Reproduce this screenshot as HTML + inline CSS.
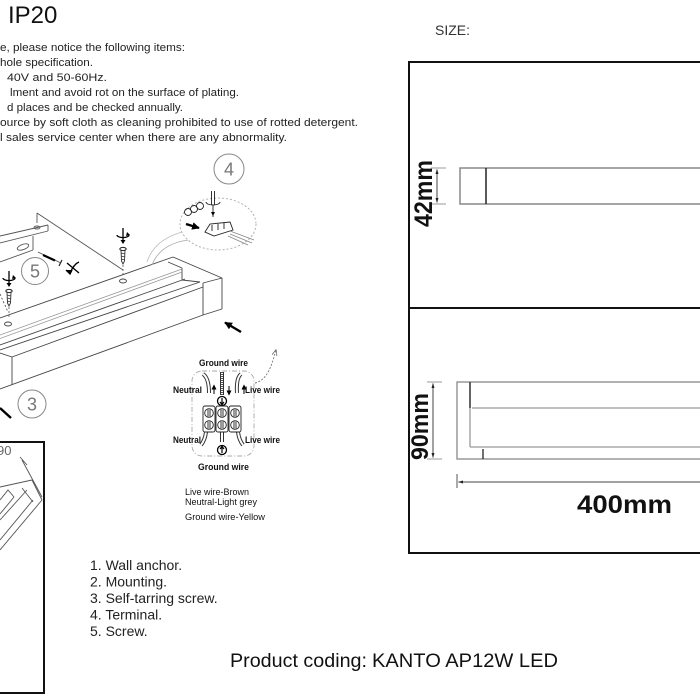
<!DOCTYPE html>
<html><head><meta charset="utf-8"><style>
html,body{margin:0;padding:0;background:#fff;}
svg{display:block;}
text{font-family:"Liberation Sans",Arial,sans-serif;}
</style></head><body>
<svg width="700" height="700" viewBox="0 0 700 700" xmlns="http://www.w3.org/2000/svg">
<defs>
<marker id="ab" viewBox="0 0 10 10" refX="9" refY="5" markerWidth="3.2" markerHeight="3.2" orient="auto"><path d="M0,0 L10,5 L0,10 z" fill="#000"/></marker>
<marker id="ad" viewBox="0 0 10 10" refX="9" refY="5" markerWidth="5" markerHeight="5" orient="auto-start-reverse"><path d="M0,2 L10,5 L0,8 z" fill="#222"/></marker>
<marker id="ao" viewBox="0 0 10 10" refX="9" refY="5" markerWidth="7" markerHeight="7" orient="auto"><path d="M0,1 L10,5 L0,9" fill="none" stroke="#666" stroke-width="1.2"/></marker>
<g id="rot">
  <line x1="0" y1="-8" x2="0" y2="6" stroke="#000" stroke-width="1.3"/>
  <path d="M-6,-1 A6,2.6 0 1 0 6,-1" fill="none" stroke="#000" stroke-width="1.3"/>
  <path d="M-2.5,4 L0,8 L2.5,4 z" fill="#000"/>
  <path d="M4,-4 L7,-1 L3,0 z" fill="#000"/>
</g>
<g id="screw">
  <ellipse cx="0" cy="0" rx="3.2" ry="1.6" fill="none" stroke="#222" stroke-width="1"/>
  <path d="M-2,1.5 L2,1.5 L1.5,12 L0,15 L-1.5,12 z" fill="none" stroke="#333" stroke-width="0.9"/>
  <path d="M-2,4 L2,5 M-2,7 L2,8 M-1.8,10 L1.8,11" stroke="#333" stroke-width="0.8"/>
</g>
</defs>

<!-- Title -->
<text x="8" y="23" font-size="24" fill="#111">IP20</text>

<!-- Instructions -->
<g font-size="11" fill="#222">
<text x="0" y="51" textLength="185" lengthAdjust="spacingAndGlyphs">e, please notice the following items:</text>
<text x="0" y="66" textLength="93" lengthAdjust="spacingAndGlyphs">hole specification.</text>
<text x="7" y="81" textLength="100" lengthAdjust="spacingAndGlyphs">40V and 50-60Hz.</text>
<text x="10" y="96" textLength="229" lengthAdjust="spacingAndGlyphs">lment and avoid rot on the surface of plating.</text>
<text x="7" y="111" textLength="176" lengthAdjust="spacingAndGlyphs">d places and be checked annually.</text>
<text x="0" y="126" textLength="358" lengthAdjust="spacingAndGlyphs">ource by soft cloth as cleaning prohibited to use of rotted detergent.</text>
<text x="0" y="141" textLength="287" lengthAdjust="spacingAndGlyphs">l sales service center when there are any abnormality.</text>
</g>

<!-- SIZE -->
<text x="435" y="35" font-size="14" fill="#333" textLength="35" lengthAdjust="spacingAndGlyphs">SIZE:</text>

<!-- Right dimension box -->
<path d="M409,553 V62 H701" fill="none" stroke="#111" stroke-width="2"/>
<line x1="409" y1="308" x2="701" y2="308" stroke="#111" stroke-width="2"/>
<line x1="408" y1="553" x2="701" y2="553" stroke="#111" stroke-width="2"/>

<!-- top view -->
<path d="M701,168 H460 V204 H701" fill="none" stroke="#888" stroke-width="1.5"/>
<line x1="486" y1="168" x2="486" y2="204" stroke="#222" stroke-width="1.5"/>
<line x1="431" y1="168" x2="446" y2="168" stroke="#999" stroke-width="1"/>
<line x1="431" y1="204" x2="446" y2="204" stroke="#999" stroke-width="1"/>
<line x1="437" y1="169.5" x2="437" y2="202.5" stroke="#444" stroke-width="1" marker-start="url(#ad)" marker-end="url(#ad)"/>
<text transform="translate(432,193.5) rotate(-90)" text-anchor="middle" font-size="25" font-weight="bold" fill="#111" textLength="67" lengthAdjust="spacingAndGlyphs">42mm</text>

<!-- bottom view -->
<path d="M701,382 H457 V459 H701" fill="none" stroke="#999" stroke-width="1.5"/>
<line x1="470" y1="382" x2="470" y2="447" stroke="#999" stroke-width="1.3"/>
<line x1="470" y1="382" x2="470" y2="408" stroke="#222" stroke-width="1.3"/>
<line x1="472" y1="408" x2="701" y2="408" stroke="#999" stroke-width="1.3"/>
<line x1="470" y1="447" x2="701" y2="447" stroke="#999" stroke-width="1.3"/>
<line x1="483" y1="449" x2="483" y2="459" stroke="#222" stroke-width="1.3"/>
<line x1="427" y1="382" x2="442" y2="382" stroke="#999" stroke-width="1"/>
<line x1="427" y1="459" x2="442" y2="459" stroke="#999" stroke-width="1"/>
<line x1="433" y1="383.5" x2="433" y2="457.5" stroke="#444" stroke-width="1" marker-start="url(#ad)" marker-end="url(#ad)"/>
<text transform="translate(428,426.5) rotate(-90)" text-anchor="middle" font-size="24" font-weight="bold" fill="#111" textLength="67" lengthAdjust="spacingAndGlyphs">90mm</text>
<line x1="457" y1="474" x2="457" y2="488" stroke="#555" stroke-width="1"/>
<line x1="458.5" y1="482" x2="701" y2="482" stroke="#444" stroke-width="1" marker-start="url(#ad)"/>
<text x="577" y="513" font-size="25" font-weight="bold" fill="#111" textLength="95" lengthAdjust="spacingAndGlyphs">400mm</text>

<!-- Illustration: wall bracket -->
<g stroke="#555" stroke-width="0.9" fill="none">
  <line x1="37" y1="213" x2="123" y2="270"/>
  <line x1="37" y1="213" x2="37" y2="223"/>
  <line x1="0" y1="236" x2="48" y2="225"/>
  <line x1="0" y1="243" x2="48" y2="231"/>
  <line x1="48" y1="225" x2="48" y2="231"/>
  <line x1="33" y1="236" x2="33" y2="250"/>
  <line x1="0" y1="262" x2="33" y2="250"/>
  <ellipse cx="23" cy="247" rx="6" ry="2.6" transform="rotate(-20 23 247)"/>
  <ellipse cx="37" cy="227.5" rx="3" ry="1.5"/>
  <line x1="0" y1="294" x2="8" y2="312" stroke-dasharray="2,2"/>
</g>

<!-- screws -->
<use href="#rot" x="123" y="236"/>
<use href="#screw" x="123" y="249"/>
<line x1="123" y1="265" x2="123" y2="276" stroke="#555" stroke-width="0.8" stroke-dasharray="2,2"/>
<use href="#rot" x="9" y="279"/>
<use href="#screw" x="9" y="291"/>
<line x1="9" y1="307" x2="9" y2="318" stroke="#555" stroke-width="0.8" stroke-dasharray="2,2"/>

<!-- screw 5 diagonal -->
<line x1="38" y1="252" x2="61" y2="263" stroke="#555" stroke-width="0.9"/>
<line x1="43" y1="255" x2="55" y2="260.5" stroke="#000" stroke-width="2.2"/>
<line x1="59" y1="266" x2="62" y2="260" stroke="#222" stroke-width="1.2"/>
<g stroke="#000" stroke-width="1.4" fill="none">
  <line x1="67" y1="263" x2="79" y2="273"/>
  <path d="M70,273 Q74,264 79,262"/>
  <path d="M66,270 L70,274 L72,270" fill="#000"/>
</g>

<!-- circles -->
<g fill="none" stroke="#888" stroke-width="1">
  <circle cx="35" cy="271" r="13.5"/>
  <circle cx="32" cy="404" r="14"/>
  <circle cx="229" cy="169" r="15"/>
</g>
<g font-size="18" fill="#777" text-anchor="middle">
  <text x="35" y="277.5">5</text>
  <text x="32" y="410.5">3</text>
  <text x="229" y="175.5">4</text>
</g>

<!-- Lamp bar -->
<g stroke="#444" stroke-width="0.9" fill="none">
  <line x1="0" y1="318" x2="173" y2="257"/>
  <line x1="173" y1="257" x2="222" y2="278"/>
  <line x1="222" y1="278" x2="222" y2="309"/>
  <line x1="203" y1="283" x2="222" y2="278"/>
  <line x1="200" y1="282" x2="0" y2="350"/>
  <line x1="203" y1="287" x2="12" y2="357"/>
  <line x1="203" y1="283" x2="203" y2="315"/>
  <line x1="222" y1="309" x2="203" y2="315"/>
  <line x1="203" y1="315" x2="0" y2="389"/>
  <line x1="12" y1="357" x2="12" y2="385"/>
  <line x1="0" y1="353" x2="12" y2="357"/>
  <line x1="168" y1="262" x2="182" y2="268"/>
  <line x1="182" y1="268" x2="182" y2="280"/>
  <line x1="182" y1="280" x2="200" y2="282"/>
  <line x1="185" y1="279" x2="0" y2="345"/>
</g>
<g stroke="#999" stroke-width="0.8" fill="none">
  <line x1="182" y1="269" x2="0" y2="335"/>
  <line x1="182" y1="272" x2="0" y2="338.5"/>
</g>
<ellipse cx="123" cy="281" rx="3.5" ry="2" fill="none" stroke="#444" stroke-width="0.9"/>
<ellipse cx="8" cy="324" rx="3.5" ry="2" fill="none" stroke="#444" stroke-width="0.9"/>

<!-- black arrows -->
<line x1="241" y1="332" x2="225" y2="322.5" stroke="#000" stroke-width="2.4" marker-end="url(#ab)"/>
<line x1="0" y1="408" x2="11" y2="418" stroke="#000" stroke-width="2.4"/>

<!-- magnifier -->
<ellipse cx="218" cy="224" rx="38" ry="26" fill="none" stroke="#aaa" stroke-width="0.9" stroke-dasharray="2,2"/>
<path d="M188,240 Q160,244 152,265" fill="none" stroke="#aaa" stroke-width="0.8"/>
<path d="M182,232 Q154,240 147,262" fill="none" stroke="#bbb" stroke-width="0.8"/>
<g stroke="#222" stroke-width="0.9" fill="none">
  <path d="M211.5,191 V205 M214.5,191 V205 M213,205 V217"/>
  <path d="M206,202 A7,3 0 1 0 220,202" />
  <circle cx="188" cy="212" r="3.5"/>
  <circle cx="194" cy="209" r="3.5"/>
  <circle cx="200" cy="206" r="3.5"/>
  <path d="M205,232 L210,224 L230,222 L233,230 L214,236 z"/>
  <path d="M212,225 V231 M218,224 V230 M224,223 V229"/>
  <path d="M230,231 L254,240 M230,234 L252,243 M228,236 L248,245" stroke="#888"/>
</g>
<path d="M213,216 l-2,-4 h4 z" fill="#000"/>
<line x1="186" y1="224" x2="199" y2="228" stroke="#000" stroke-width="2.4" marker-end="url(#ab)"/>

<!-- Wiring diagram -->
<rect x="192" y="371" width="62" height="85" rx="10" fill="none" stroke="#aaa" stroke-width="0.9" stroke-dasharray="5,2,1,2"/>
<g font-size="9" font-weight="bold" fill="#111">
  <text x="199" y="366" textLength="49" lengthAdjust="spacingAndGlyphs">Ground wire</text>
  <text x="173" y="393" textLength="29" lengthAdjust="spacingAndGlyphs">Neutral</text>
  <text x="245" y="393" textLength="35" lengthAdjust="spacingAndGlyphs">Live wire</text>
  <text x="173" y="443" textLength="28" lengthAdjust="spacingAndGlyphs">Neutral</text>
  <text x="245" y="443" textLength="35" lengthAdjust="spacingAndGlyphs">Live wire</text>
  <text x="198" y="470" textLength="51" lengthAdjust="spacingAndGlyphs">Ground wire</text>
</g>
<g fill="none">
  <path d="M203,374 Q209,378 209,393" stroke="#333" stroke-width="4"/>
  <path d="M203,374 Q209,378 209,393" stroke="#fff" stroke-width="2"/>
  <path d="M222,372 V395" stroke="#333" stroke-width="4"/>
  <path d="M222,372 V395" stroke="#fff" stroke-width="2"/>
  <path d="M222,372 V395" stroke="#555" stroke-width="2" stroke-dasharray="1,1"/>
  <path d="M241,374 Q236,378 237,393" stroke="#333" stroke-width="4"/>
  <path d="M241,374 Q236,378 237,393" stroke="#fff" stroke-width="2"/>
  <path d="M206,432 Q205,440 201,445" stroke="#333" stroke-width="4"/>
  <path d="M206,432 Q205,440 201,445" stroke="#fff" stroke-width="2"/>
  <path d="M222,432 V442" stroke="#333" stroke-width="4"/>
  <path d="M222,432 V442" stroke="#fff" stroke-width="2"/>
  <path d="M238,432 Q239,440 243,445" stroke="#333" stroke-width="4"/>
  <path d="M238,432 Q239,440 243,445" stroke="#fff" stroke-width="2"/>
</g>
<g stroke="#000" stroke-width="1">
  <line x1="214" y1="394" x2="214" y2="387"/><path d="M212.3,389 L214,385.5 L215.7,389 z" fill="#000"/>
  <line x1="229" y1="386" x2="229" y2="393"/><path d="M227.3,391 L229,394.5 L230.7,391 z" fill="#000"/>
  <line x1="244" y1="394" x2="244" y2="387"/><path d="M242.3,389 L244,385.5 L245.7,389 z" fill="#000"/>
</g>
<circle cx="222" cy="401" r="4.5" fill="#fff" stroke="#000" stroke-width="1.3"/>
<path d="M222,398 V404 M220,402 L222,404.5 L224,402" stroke="#000" stroke-width="1.2" fill="none"/>
<circle cx="222" cy="450" r="4.5" fill="#fff" stroke="#000" stroke-width="1.3"/>
<path d="M222,453 V447 M220,449 L222,446.5 L224,449" stroke="#000" stroke-width="1.2" fill="none"/>
<g stroke="#222" stroke-width="0.9" fill="none">
  <rect x="203" y="406" width="12" height="26" rx="2"/>
  <rect x="216" y="406" width="12" height="26" rx="2"/>
  <rect x="229" y="406" width="12" height="26" rx="2"/>
  <circle cx="209" cy="413" r="4.3"/><circle cx="209" cy="425" r="4.3"/>
  <circle cx="222" cy="413" r="4.3"/><circle cx="222" cy="425" r="4.3"/>
  <circle cx="235" cy="413" r="4.3"/><circle cx="235" cy="425" r="4.3"/>
  <path d="M208,409.5 V416.5 M210,409.5 V416.5 M208,421.5 V428.5 M210,421.5 V428.5"/>
  <path d="M221,409.5 V416.5 M223,409.5 V416.5 M221,421.5 V428.5 M223,421.5 V428.5"/>
  <path d="M234,409.5 V416.5 M236,409.5 V416.5 M234,421.5 V428.5 M236,421.5 V428.5"/>
</g>
<path d="M255,383 C268,380 272,364 276,350" fill="none" stroke="#777" stroke-width="0.9" stroke-dasharray="2,1.5" marker-end="url(#ao)"/>

<!-- legend -->
<g font-size="9" fill="#111">
  <text x="185" y="495" textLength="64" lengthAdjust="spacingAndGlyphs">Live wire-Brown</text>
  <text x="185" y="505" textLength="72" lengthAdjust="spacingAndGlyphs">Neutral-Light grey</text>
  <text x="185" y="520" textLength="80" lengthAdjust="spacingAndGlyphs">Ground wire-Yellow</text>
</g>

<!-- numbered list -->
<g font-size="14" fill="#222">
  <text x="90" y="570">1. Wall anchor.</text>
  <text x="90" y="586.5">2. Mounting.</text>
  <text x="90" y="603">3. Self-tarring screw.</text>
  <text x="90" y="619.5">4. Terminal.</text>
  <text x="90" y="636">5. Screw.</text>
</g>

<!-- product coding -->
<text x="230" y="667" font-size="19" fill="#111" textLength="137" lengthAdjust="spacingAndGlyphs">Product coding:</text>
<text x="372" y="667" font-size="19" fill="#111" textLength="186" lengthAdjust="spacingAndGlyphs">KANTO AP12W LED</text>

<!-- bottom-left box -->
<path d="M-2,442 H44 V693 H-2" fill="none" stroke="#111" stroke-width="2"/>
<text x="-3" y="455" font-size="13" fill="#666">90</text>
<g stroke="#555" stroke-width="0.9" fill="none">
  <line x1="20" y1="457" x2="27" y2="465"/>
  <line x1="22" y1="460" x2="42" y2="497"/>
  <line x1="0" y1="487" x2="32" y2="480"/>
  <line x1="32" y1="480" x2="42" y2="500"/>
  <line x1="42" y1="500" x2="0" y2="550"/>
  <line x1="33" y1="500" x2="0" y2="540"/>
  <line x1="27" y1="490" x2="0" y2="520"/>
  <line x1="22" y1="488" x2="33" y2="502"/>
  <path d="M0,500 L8,490 L14,497"/>
  <line x1="14" y1="497" x2="0" y2="514"/>
</g>
</svg>
</body></html>
